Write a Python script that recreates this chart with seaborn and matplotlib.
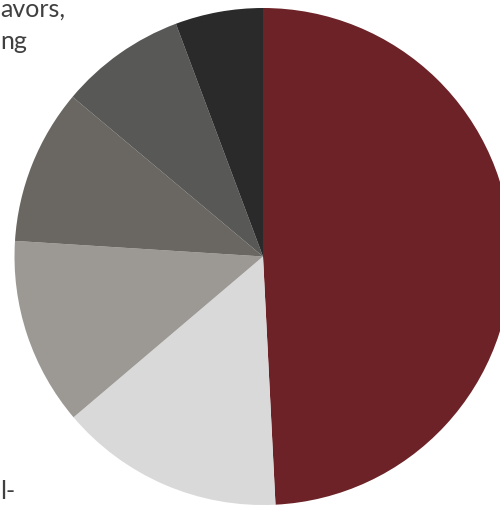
import matplotlib
matplotlib.use("Agg")
import matplotlib.pyplot as plt
import seaborn as sns

# Slice shares (percent), clockwise from 12 o'clock
segments = ["A", "B", "C", "D", "E", "F"]
shares = [49.2, 14.6, 12.2, 10.1, 8.2, 5.7]
colors = ["#6c2227", "#d9d9d9", "#9c9995", "#6a6661", "#585857", "#2a2a2a"]

# Fragments of the side labels that are cut off by the frame
top_lines = ["avors,", "ng"]
bottom_line = "l-"

sns.set_theme(style="white")
plt.rcParams["font.family"] = ["Lato", "DejaVu Sans"]

W, H, DPI = 500, 506, 100
fig = plt.figure(figsize=(W / DPI, H / DPI), dpi=DPI)

# pie centre and radius in pixels
cx, cy, r = 263, 257.5, 248.5
ax = fig.add_axes([(cx - r) / W, (H - cy - r) / H, 2 * r / W, 2 * r / H])
ax.pie(shares, colors=colors, startangle=90, counterclock=False,
       wedgeprops=dict(linewidth=0))
ax.set_xlim(-1, 1)
ax.set_ylim(-1, 1)
ax.set_aspect("auto")
ax.axis("off")

txt = dict(color="#404040", fontsize=18, ha="left", va="baseline")
fig.text(0, 1 - 17 / H, top_lines[0], **txt)
fig.text(0, 1 - 49 / H, top_lines[1], **txt)
fig.text(0, 1 - 499 / H, bottom_line, **txt)

fig.savefig("out.png", dpi=DPI, facecolor="white")
